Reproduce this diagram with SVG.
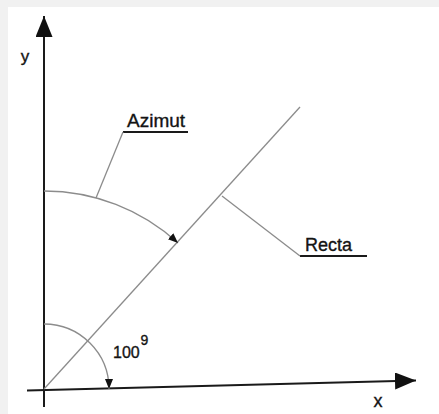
<svg xmlns="http://www.w3.org/2000/svg" width="439" height="414" viewBox="0 0 439 414">
  <style>
    .axis { stroke: #1a1a1a; stroke-width: 2; fill: none; }
    .thin { stroke: #8c8c8c; stroke-width: 1.3; fill: none; }
    .under { stroke: #1a1a1a; stroke-width: 2; fill: none; }
    .lbl { font-family: "Liberation Sans", Arial, sans-serif; fill: #141414; stroke: #141414; stroke-width: 0.35; }
  </style>
  <defs>
    <marker id="bigArrow" markerUnits="userSpaceOnUse" markerWidth="22" markerHeight="18" refX="21" refY="8.5" orient="auto">
      <path d="M0,0 L21,8.5 L0,17 Z" fill="#111"/>
    </marker>
    <marker id="smallArrow" markerUnits="userSpaceOnUse" markerWidth="12" markerHeight="10" refX="10" refY="4" orient="auto">
      <path d="M0,0 L10,4 L0,8 Z" fill="#111"/>
    </marker>
  </defs>
  <rect x="0" y="0" width="439" height="414" fill="#f1f1f1"/>
  <rect x="8" y="7" width="431" height="407" fill="#ffffff"/>

  <g id="axis-y">
    <line class="axis" x1="44" y1="407" x2="44" y2="16" marker-end="url(#bigArrow)"/>
    <text class="lbl" x="25" y="62" font-size="17" text-anchor="middle">y</text>
  </g>
  <g id="axis-x">
    <line class="axis" x1="27" y1="390.5" x2="416" y2="380.5" marker-end="url(#bigArrow)"/>
    <text class="lbl" x="378" y="407" font-size="18" text-anchor="middle">x</text>
  </g>
  <g id="recta">
    <line class="thin" x1="44" y1="389" x2="300" y2="107"/>
  </g>
  <g id="azimut-arc">
    <path class="thin" d="M44,191 A198,198 0 0 1 178,243" marker-end="url(#smallArrow)"/>
  </g>
  <g id="right-angle-arc">
    <path class="thin" d="M44,324 A65,65 0 0 1 109,389" marker-end="url(#smallArrow)"/>
    <text class="lbl" x="113" y="358" font-size="16">100</text>
    <text class="lbl" x="140.5" y="345" font-size="14">9</text>
  </g>
  <g id="label-azimut">
    <text class="lbl" x="127" y="127" font-size="19">Azimut</text>
    <line class="under" x1="123" y1="132" x2="188" y2="132"/>
  </g>
  <g id="label-recta">
    <text class="lbl" x="305" y="251" font-size="18">Recta</text>
    <line class="under" x1="300" y1="256" x2="367" y2="256"/>
  </g>
  <g id="connectors">
    <line class="thin" x1="96" y1="198" x2="123" y2="132"/>
    <line class="thin" x1="222" y1="196" x2="300" y2="256"/>
  </g>
</svg>
